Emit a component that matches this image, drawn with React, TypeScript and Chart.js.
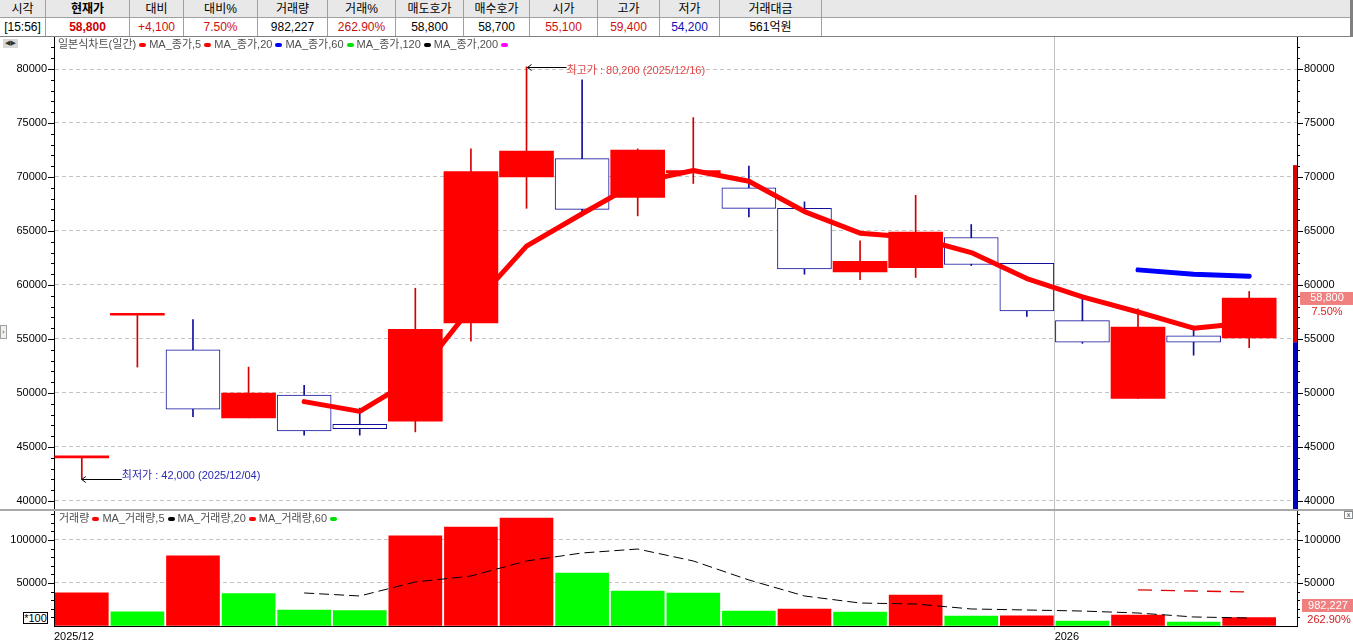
import React, { useEffect, useRef } from 'react';
import { Chart, registerables } from 'chart.js';
Chart.register(...registerables);

// ---------- data ----------
const dates = ['2025/12/04','2025/12/05','2025/12/08','2025/12/09','2025/12/10','2025/12/11','2025/12/12','2025/12/15','2025/12/16','2025/12/17','2025/12/18','2025/12/19','2025/12/22','2025/12/23','2025/12/24','2025/12/26','2025/12/29','2025/12/30','2026/01/02','2026/01/05','2026/01/06','2026/01/07'];
const opens  = [44000, 57200, 54000, 47700, 49800, 47100, 47400, 56500, 70000, 71700, 68100, 70400, 69000, 67100, 61200, 61600, 64400, 62000, 56700, 49500, 55300, 55100];
const highs  = [44000, 57200, 56800, 52400, 50700, 48600, 59700, 72600, 80200, 79000, 72600, 75500, 71000, 67700, 64100, 68300, 65600, 62000, 58700, 57800, 56200, 59400];
const lows   = [42000, 52400, 47800, 47700, 46100, 46100, 46400, 54800, 67100, 66400, 66400, 69400, 66300, 61000, 60500, 60700, 61800, 57100, 54600, 49500, 53500, 54200];
const closes = [44000, 57200, 48500, 50000, 46500, 46700, 55900, 70500, 72400, 67000, 72500, 70600, 67100, 61500, 62200, 64900, 61900, 57600, 54700, 56100, 54700, 58800];
const ma5Close  = [null, null, null, null, 49200, 48300, 51400, 57900, 63600, 66600, 69500, 70600, 69600, 66800, 64800, 64400, 63000, 60600, 58900, 57500, 56000, 56500];
const ma20Close = [null, null, null, null, null, null, null, null, null, null, null, null, null, null, null, null, null, null, null, 61400, 61000, 60800];
// volume in units of 100
const volumes  = [38500, 16600, 81700, 37600, 18600, 17800, 104700, 115100, 125600, 61600, 40700, 38400, 17400, 19800, 16300, 36000, 11600, 11800, 5800, 12800, 4650, 9822];
const volMa5   = [null, null, null, null, 38400, 34900, 51200, 58100, 75600, 84900, 89500, 75600, 53500, 34900, 26700, 25600, 19800, 18600, 17400, 15100, 10500, 9300];
const volMa20  = [null, null, null, null, null, null, null, null, null, null, null, null, null, null, null, null, null, null, null, 41900, 40700, 39500];

const priceMajorTicks = [40000, 45000, 50000, 55000, 60000, 65000, 70000, 75000, 80000];
const priceMinorStep = 1000;
const volMajorTicks = [50000, 100000];
const volMinorStep = 10000;

const upperLimit = 71100;
const prevClose = 54700;
const lowerLimit = 38300;
const highIdx = 8;
const lowIdx = 0;

const headerCols = [
  { h: '시각', v: '[15:56]', c: '#000', b: false, w: 46 },
  { h: '현재가', v: '58,800', c: '#d00000', b: true, w: 84 },
  { h: '대비', v: '+4,100', c: '#d01010', b: false, w: 54 },
  { h: '대비%', v: '7.50%', c: '#d01010', b: false, w: 74 },
  { h: '거래량', v: '982,227', c: '#000', b: false, w: 70 },
  { h: '거래%', v: '262.90%', c: '#c01010', b: false, w: 68 },
  { h: '매도호가', v: '58,800', c: '#000', b: false, w: 68 },
  { h: '매수호가', v: '58,700', c: '#000', b: false, w: 66 },
  { h: '시가', v: '55,100', c: '#d01010', b: false, w: 68 },
  { h: '고가', v: '59,400', c: '#d01010', b: false, w: 62 },
  { h: '저가', v: '54,200', c: '#1010b0', b: false, w: 60 },
  { h: '거래대금', v: '561억원', c: '#000', b: false, w: 102 },
];

const X_MIN = -0.5;
const X_MAX = 21.86;
const AXF = '"Liberation Sans", Arial, sans-serif';
const KF = '"Liberation Sans", "Noto Sans CJK KR", sans-serif';

const toXY = (arr: (number | null)[]) =>
  arr.map((v, i) => (v == null ? null : { x: i, y: v })).filter(Boolean) as { x: number; y: number }[];

function buildTicks(min: number, max: number, step: number) {
  const out: { value: number }[] = [];
  for (let v = Math.ceil(min / step) * step; v <= max; v += step) out.push({ value: v });
  return out;
}

const zeroPad = (s: any) => { s.paddingTop = 0; s.paddingBottom = 0; s.paddingLeft = 0; s.paddingRight = 0; };

const tickMarks = {
  id: 'tickMarks',
  afterDraw(chart: any) {
    const ctx = chart.ctx;
    ctx.save();
    ctx.strokeStyle = '#000';
    ctx.lineWidth = 1;
    ['y', 'y2'].forEach((id) => {
      const s = chart.scales[id];
      if (!s) return;
      const left = s.position === 'left';
      s.ticks.forEach((t: any) => {
        const py = Math.round(s.getPixelForValue(t.value)) + 0.5;
        if (py < chart.chartArea.top || py > chart.chartArea.bottom) return;
        const len = t.label ? 6 : 3;
        ctx.beginPath();
        if (left) { ctx.moveTo(s.right - len, py); ctx.lineTo(s.right, py); }
        else { ctx.moveTo(s.left, py); ctx.lineTo(s.left + len, py); }
        ctx.stroke();
      });
    });
    ctx.restore();
  },
};

const mainDecor = {
  id: 'mainDecor',
  afterDatasetsDraw(chart: any) {
    const { ctx, chartArea } = chart;
    const xs = chart.scales.x, ys = chart.scales.y;
    ctx.save();
    const yU = ys.getPixelForValue(upperLimit);
    const yP = ys.getPixelForValue(prevClose);
    const yL = Math.min(ys.getPixelForValue(lowerLimit), chartArea.bottom);
    ctx.fillStyle = '#dd0000';
    ctx.fillRect(chartArea.right - 4, yU, 4, yP - yU);
    ctx.fillStyle = '#0000c0';
    ctx.fillRect(chartArea.right - 4, yP, 4, yL - yP);

    ctx.font = `11px ${KF}`;
    ctx.textBaseline = 'middle';
    const hx = xs.getPixelForValue(highIdx) + 1;
    const hy = Math.round(ys.getPixelForValue(highs[highIdx])) + 0.5;
    ctx.strokeStyle = '#000';
    ctx.lineWidth = 1;
    ctx.beginPath();
    ctx.moveTo(hx, hy); ctx.lineTo(hx + 39, hy);
    ctx.moveTo(hx + 4, hy - 3); ctx.lineTo(hx, hy); ctx.lineTo(hx + 4, hy + 3);
    ctx.stroke();
    ctx.fillStyle = '#e04848';
    ctx.textAlign = 'left';
    ctx.fillText(`최고가 : ${highs[highIdx].toLocaleString('en-US')} (${dates[highIdx]})`, hx + 39, hy + 3);
    const lx = xs.getPixelForValue(lowIdx);
    const ly = Math.round(ys.getPixelForValue(lows[lowIdx])) + 0.5;
    ctx.beginPath();
    ctx.moveTo(lx, ly); ctx.lineTo(lx + 40, ly);
    ctx.moveTo(lx + 4, ly - 3); ctx.lineTo(lx, ly); ctx.lineTo(lx + 4, ly + 3);
    ctx.stroke();
    ctx.fillStyle = '#2a2ab4';
    ctx.fillText(`최저가 : ${lows[lowIdx].toLocaleString('en-US')} (${dates[lowIdx]})`, lx + 40, ly - 4);
    ctx.restore();
  },
  afterDraw(chart: any) {
    const { ctx } = chart;
    const ys = chart.scales.y;
    const last = closes[closes.length - 1];
    const py = ys.getPixelForValue(last);
    ctx.save();
    ctx.fillStyle = '#f08080';
    ctx.fillRect(1300, py - 6, 53, 13);
    ctx.font = `11px ${AXF}`;
    ctx.textAlign = 'center';
    ctx.textBaseline = 'middle';
    ctx.fillStyle = '#ffffff';
    ctx.fillText(last.toLocaleString('en-US'), 1327, py + 0.5);
    ctx.fillStyle = '#e02020';
    ctx.fillText('7.50%', 1327, py + 14.5);
    ctx.restore();
  },
};

const volDecor = {
  id: 'volDecor',
  afterDraw(chart: any) {
    const { ctx, chartArea } = chart;
    const b = chartArea.bottom;
    ctx.save();
    ctx.fillStyle = '#f08080';
    ctx.fillRect(1302, b - 27, 51, 13);
    ctx.font = `11px ${AXF}`;
    ctx.textAlign = 'center';
    ctx.textBaseline = 'middle';
    ctx.fillStyle = '#ffffff';
    ctx.fillText('982,227', 1328, b - 20);
    ctx.fillStyle = '#d02020';
    ctx.fillText('262.90%', 1329, b - 6.5);
    ctx.restore();
  },
};

function yAxisCommon(min: number, max: number, step: number, majors: number[], side: 'left' | 'right', width: number) {
  return {
    type: 'linear',
    position: side,
    min, max,
    afterBuildTicks: (s: any) => { s.ticks = buildTicks(min, max, step); },
    afterFit: (s: any) => { s.width = width; zeroPad(s); },
    ticks: {
      autoSkip: false,
      padding: 7,
      font: { family: AXF, size: 11 },
      color: '#000',
      callback: (v: any) => (majors.includes(v) ? String(v) : ''),
    },
    grid: {
      drawOnChartArea: side === 'left',
      drawTicks: false,
      color: (c: any) => (c.tick && majors.includes(c.tick.value) ? '#c4c4c4' : 'rgba(0,0,0,0)'),
    },
    border: { color: '#000', width: 1, dash: [4, 3] },
  };
}

function MainChart() {
  const ref = useRef<HTMLCanvasElement>(null);
  useEffect(() => {
    const up = (i: number) => closes[i] >= opens[i];
    const pMin = 39259, pMax = 82963;
    const chart = new Chart(ref.current!, {
      type: 'bar',
      data: {
        datasets: [
          { type: 'line', data: toXY(ma5Close), borderColor: '#ff0000', borderWidth: 5, pointRadius: 0, borderCapStyle: 'round', borderJoinStyle: 'round', order: 0 } as any,
          { type: 'line', data: toXY(ma20Close), borderColor: '#0000ff', borderWidth: 5, pointRadius: 0, borderCapStyle: 'round', borderJoinStyle: 'round', order: 0 } as any,
          {
            type: 'bar',
            data: opens.map((o, i) => ({ x: i, y: [o, closes[i]] })),
            backgroundColor: opens.map((_, i) => (up(i) ? '#ff0000' : '#ffffff')),
            borderColor: opens.map((_, i) => (up(i) ? '#ff0000' : '#10109c')),
            borderWidth: opens.map((_, i) => (up(i) ? 0 : 1)),
            borderSkipped: false,
            barThickness: 54,
            minBarLength: 2,
            grouped: false,
            order: 1,
          } as any,
          {
            type: 'bar',
            data: lows.map((l, i) => ({ x: i, y: [l, highs[i]] })),
            backgroundColor: opens.map((_, i) => (up(i) ? '#d40000' : '#10109c')),
            borderWidth: 0,
            barThickness: 1,
            grouped: false,
            order: 2,
          } as any,
        ],
      },
      options: {
        animation: false,
        responsive: false,
        maintainAspectRatio: false,
        layout: { padding: 0 },
        plugins: { legend: { display: false }, tooltip: { enabled: false } },
        scales: {
          x: {
            type: 'linear', min: X_MIN, max: X_MAX, offset: false,
            afterBuildTicks: (s: any) => { s.ticks = [{ value: 17.5 }]; },
            afterFit: (s: any) => { s.height = 0; zeroPad(s); },
            ticks: { display: false },
            grid: { color: '#c0c0c0', drawTicks: false, offset: false },
            border: { display: false },
          },
          y: yAxisCommon(pMin, pMax, priceMinorStep, priceMajorTicks, 'left', 54),
          y2: yAxisCommon(pMin, pMax, priceMinorStep, priceMajorTicks, 'right', 56),
        } as any,
      },
      plugins: [tickMarks, mainDecor],
    } as any);
    return () => chart.destroy();
  }, []);
  return <canvas ref={ref} width={1353} height={472} style={{ display: 'block', width: 1353, height: 472 }} />;
}

function VolumeChart() {
  const ref = useRef<HTMLCanvasElement>(null);
  useEffect(() => {
    const vMax = 133700;
    const yearStart = dates.findIndex((d, i) => i > 0 && d.slice(0, 4) !== dates[i - 1].slice(0, 4));
    const xTickVals = [X_MIN, yearStart - 0.5];
    const xTickLabels = [dates[0].slice(0, 7), dates[yearStart].slice(0, 4)];
    const chart = new Chart(ref.current!, {
      type: 'bar',
      data: {
        datasets: [
          { type: 'line', data: toXY(volMa5), borderColor: '#000', borderWidth: 1, borderDash: [10, 5], pointRadius: 0, order: 0 } as any,
          { type: 'line', data: toXY(volMa20), borderColor: '#e00000', borderWidth: 1.3, borderDash: [14, 9], pointRadius: 0, order: 0 } as any,
          {
            type: 'bar',
            data: volumes.map((v, i) => ({ x: i, y: v })),
            backgroundColor: volumes.map((v, i) => (i === 0 || v > volumes[i - 1] ? '#ff0000' : '#00ff00')),
            borderWidth: 0,
            barThickness: 53,
            grouped: false,
            order: 1,
          } as any,
        ],
      },
      options: {
        animation: false,
        responsive: false,
        maintainAspectRatio: false,
        layout: { padding: 0 },
        plugins: { legend: { display: false }, tooltip: { enabled: false } },
        scales: {
          x: {
            type: 'linear', min: X_MIN, max: X_MAX, offset: false,
            afterBuildTicks: (s: any) => { s.ticks = xTickVals.map((v) => ({ value: v })); },
            afterFit: (s: any) => { s.height = 18; zeroPad(s); },
            ticks: {
              autoSkip: false, maxRotation: 0, align: 'start', padding: 0,
              font: { family: AXF, size: 11 }, color: '#000',
              callback: (v: any) => { const k = xTickVals.indexOf(v); return k >= 0 ? xTickLabels[k] : ''; },
            },
            grid: {
              color: (c: any) => (c.tick && c.tick.value !== X_MIN ? '#c0c0c0' : 'rgba(0,0,0,0)'),
              drawTicks: true, tickLength: 4, offset: false,
            },
            border: { color: '#000', width: 1 },
          },
          y: yAxisCommon(0, vMax, volMinorStep, volMajorTicks, 'left', 54),
          y2: yAxisCommon(0, vMax, volMinorStep, volMajorTicks, 'right', 56),
        } as any,
      },
      plugins: [tickMarks, volDecor],
    } as any);
    return () => chart.destroy();
  }, []);
  return <canvas ref={ref} width={1353} height={133} style={{ display: 'block', width: 1353, height: 133 }} />;
}

function Mark({ c }: { c: string }) {
  return <span style={{ display: 'inline-block', width: 7, height: 4, background: c, borderRadius: 2, margin: '0 3px', verticalAlign: 'middle' }} />;
}

function Header() {
  let x = 0;
  const cells: React.ReactNode[] = [];
  headerCols.forEach((col, i) => {
    cells.push(
      <div key={'h' + i} style={{ position: 'absolute', left: x, top: 0, width: col.w, height: 18, lineHeight: '18px', textAlign: 'center', color: '#000', fontWeight: i === 1 ? 700 : 400, borderRight: '1px solid #a0a0a0', boxSizing: 'border-box' }}>{col.h}</div>
    );
    cells.push(
      <div key={'v' + i} style={{ position: 'absolute', left: x, top: 18, width: col.w, height: 18, lineHeight: '18px', textAlign: 'center', color: col.c, fontWeight: col.b ? 700 : 400, borderRight: '1px solid #a0a0a0', boxSizing: 'border-box' }}>{col.v}</div>
    );
    x += col.w;
  });
  return (
    <div style={{ position: 'absolute', left: 0, top: 0, width: 1353, height: 37, fontFamily: KF, fontSize: 12 }}>
      <div style={{ position: 'absolute', left: 0, top: 0, width: 1351, height: 18, background: '#e8e8e8', borderBottom: '1px solid #a0a0a0', boxSizing: 'border-box' }} />
      <div style={{ position: 'absolute', left: 0, top: 36, width: 1353, height: 1, background: '#808080' }} />
      <div style={{ position: 'absolute', left: 1350, top: 0, width: 3, height: 37, background: '#808080' }} />
      {cells}
    </div>
  );
}

export default function App() {
  useEffect(() => { document.body.style.margin = '0'; }, []);
  return (
    <div style={{ position: 'fixed', left: 0, top: 0, width: 1353, height: 644, background: '#fff', overflow: 'hidden' }}>
      <Header />
      <div style={{ position: 'absolute', left: 0, top: 37 }}><MainChart /></div>
      <div style={{ position: 'absolute', left: 0, top: 511 }}><VolumeChart /></div>
      <div style={{ position: 'absolute', left: 0, top: 509, width: 1353, height: 2, background: '#a8a8a8' }} />
      <div style={{ position: 'absolute', left: 58, top: 37, height: 15, lineHeight: '15px', fontFamily: KF, fontSize: 11, color: '#505050', whiteSpace: 'nowrap' }}>
        일본식차트(일간)<Mark c="#ff0000" />MA_종가,5<Mark c="#ff0000" />MA_종가,20<Mark c="#0000ff" />MA_종가,60<Mark c="#00e000" />MA_종가,120<Mark c="#000000" />MA_종가,200<Mark c="#ff00ff" />
      </div>
      <div style={{ position: 'absolute', left: 59, top: 511, height: 15, lineHeight: '15px', fontFamily: KF, fontSize: 11, color: '#505050', whiteSpace: 'nowrap' }}>
        거래량<Mark c="#ff0000" />MA_거래량,5<Mark c="#000000" />MA_거래량,20<Mark c="#ff0000" />MA_거래량,60<Mark c="#00e000" />
      </div>
      <div style={{ position: 'absolute', left: 23, top: 612, width: 25, height: 12, border: '1px solid #000', boxSizing: 'border-box', fontFamily: AXF, fontSize: 11, lineHeight: '10px', textAlign: 'center', background: '#fff' }}>*100</div>
      <div style={{ position: 'absolute', left: 3, top: 39, width: 15, height: 9, background: '#d8d8d8', fontFamily: '"DejaVu Sans"', fontSize: 7, lineHeight: '9px', textAlign: 'center', color: '#333' }}>◀▶</div>
      <div style={{ position: 'absolute', left: 0, top: 325, width: 7, height: 14, border: '1px solid #a0a0a0', boxSizing: 'border-box', background: '#f0f0f0', fontFamily: '"DejaVu Sans"', fontSize: 7, lineHeight: '12px', textAlign: 'center', color: '#333' }}>›</div>
      <div style={{ position: 'absolute', left: 1344, top: 511, width: 9, height: 8, border: '1px solid #888', boxSizing: 'border-box', fontFamily: '"DejaVu Sans"', fontSize: 7, lineHeight: '6px', textAlign: 'center', color: '#444', background: '#fff' }}>x</div>
    </div>
  );
}
